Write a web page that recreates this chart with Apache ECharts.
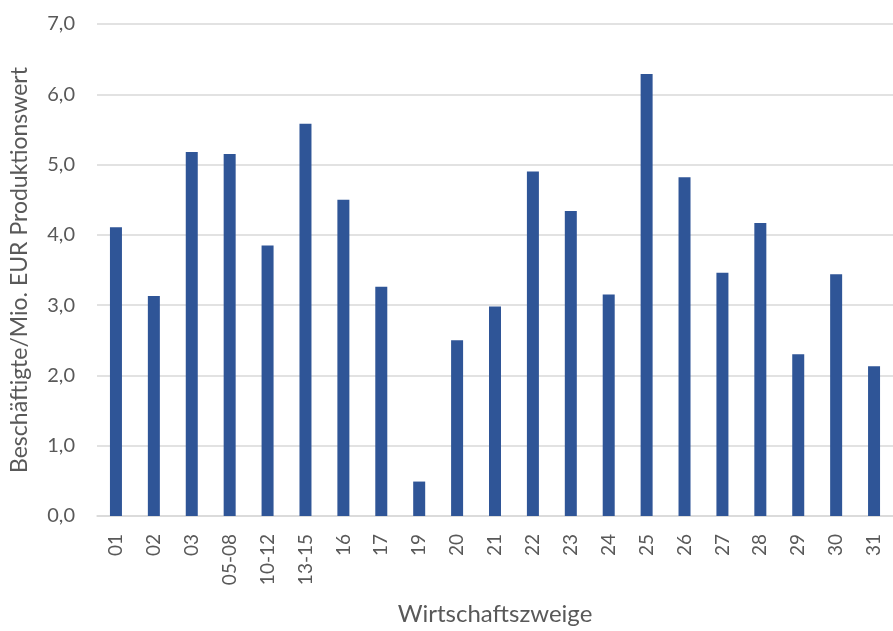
<!DOCTYPE html>
<html>
<head>
<meta charset="utf-8">
<script src="https://cdn.jsdelivr.net/npm/echarts@6/dist/echarts.min.js"></script>
<style>
  html, body { margin: 0; padding: 0; background: #fff; }
  #chart { width: 893px; height: 631px; }
</style>
</head>
<body>
<div id="chart"></div>
<script>
// Wirtschaftszweige (Branchencodes)
const categories = ['01', '02', '03', '05-08', '10-12', '13-15', '16', '17', '19', '20', '21',
  '22', '23', '24', '25', '26', '27', '28', '29', '30', '31'];
// Beschäftigte je Mio. EUR Produktionswert
const values = [4.11, 3.13, 5.18, 5.15, 3.85, 5.58, 4.50, 3.26, 0.49, 2.50, 2.98,
  4.90, 4.34, 3.15, 6.29, 4.82, 3.46, 4.17, 2.30, 3.44, 2.13];
const yTicks = { min: 0, max: 7, interval: 1 };
const yAxisTitle = 'Beschäftigte/Mio. EUR Produktionswert';
const xAxisTitle = 'Wirtschaftszweige';

const FONT = 'Lato, "Open Sans", sans-serif';
const TEXT = '#595959';
const GRID = '#d9d9d9';

const chart = echarts.init(document.getElementById('chart'));
chart.setOption({
  animation: false,
  grid: { left: 97, right: -9, top: 24, bottom: 112 },
  xAxis: {
    type: 'category',
    data: categories,
    name: xAxisTitle,
    nameLocation: 'middle',
    nameGap: 86,
    nameTextStyle: { fontFamily: FONT, fontSize: 24, color: TEXT, letterSpacing: 2.2 },
    axisLine: { lineStyle: { color: GRID, width: 1.5 } },
    axisTick: { show: false },
    axisLabel: {
      rotate: 90,
      margin: 18,
      interval: 0,
      fontFamily: FONT,
      fontSize: 19,
      color: TEXT
    }
  },
  yAxis: {
    type: 'value',
    min: yTicks.min,
    max: yTicks.max,
    interval: yTicks.interval,
    name: yAxisTitle,
    nameLocation: 'middle',
    nameGap: 66,
    nameTextStyle: { fontFamily: FONT, fontSize: 23, color: TEXT, letterSpacing: 2.2 },
    axisLine: { show: false },
    axisTick: { show: false },
    splitLine: { lineStyle: { color: GRID, width: 1.5 } },
    axisLabel: {
      margin: 22,
      fontFamily: FONT,
      fontSize: 20,
      color: TEXT,
      formatter: v => v.toFixed(1).replace('.', ',')
    }
  },
  series: [{
    type: 'bar',
    data: values,
    barWidth: 12,
    itemStyle: { color: '#2f5597' }
  }]
});
</script>
</body>
</html>
